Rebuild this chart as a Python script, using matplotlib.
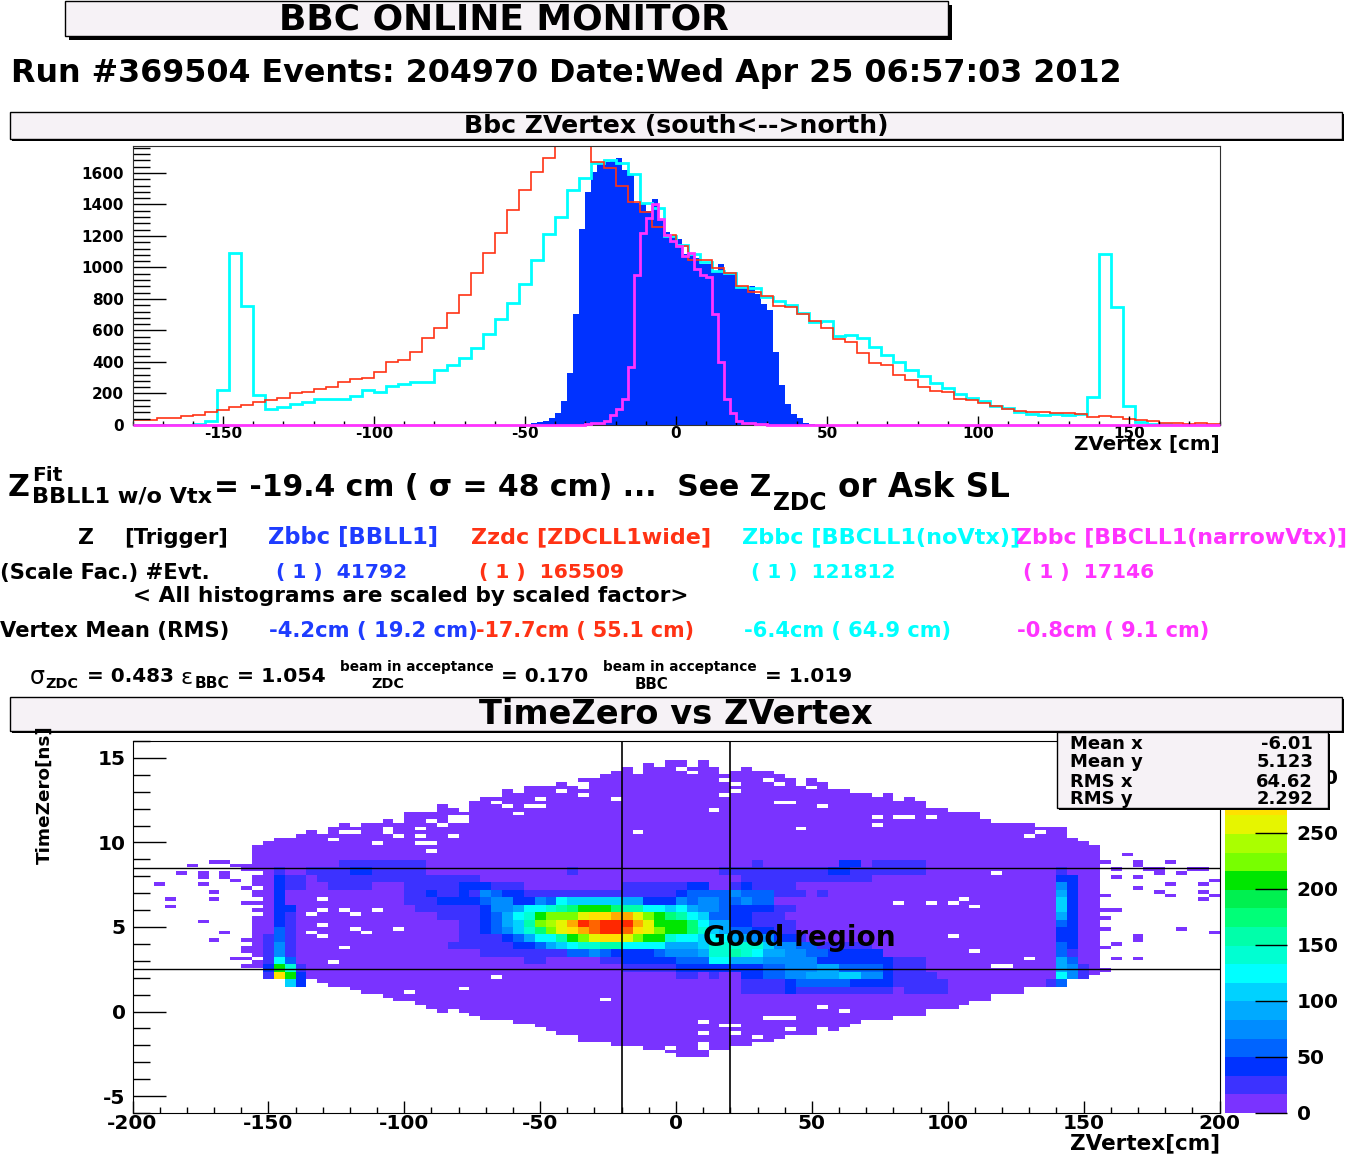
import numpy as np
import matplotlib
matplotlib.use('Agg')
import matplotlib.pyplot as plt
from matplotlib.colors import ListedColormap, BoundaryNorm
from matplotlib.patches import Rectangle
from matplotlib.ticker import MultipleLocator

plt.rcParams['axes.unicode_minus'] = False

W, H = 1363, 1161

# top histogram, 4 cm bins from -180 to 180
red_4cm = [32, 32, 47, 47, 59, 66, 80, 95, 116, 125, 144, 159, 174, 201, 210, 231, 243, 271, 294, 300,
           334, 400, 413, 463, 554, 618, 709, 825, 963, 1092, 1219, 1367, 1494, 1608, 1693, 1850, 1840,
           1769, 1672, 1630, 1517, 1414, 1354, 1255, 1204,
           1135, 1048, 1046, 998, 966, 881, 843, 817, 758, 747, 705, 662, 613, 545, 528, 456, 393, 384,
           320, 286, 242, 216, 208, 168, 159, 138, 123, 104, 91, 85, 83, 78, 78, 70, 53, 59, 49, 40, 32,
           25, 15, 13, 8, 13, 6]
cyan_4cm = [0, 0, 0, 0, 2, 8, 27, 221, 1093, 754, 191, 104, 113, 132, 147, 163, 163, 163, 183, 221,
            212, 248, 261, 276, 276, 346, 382, 425, 488, 580, 673, 773, 898, 1049, 1212, 1318, 1490,
            1567, 1660, 1681, 1662, 1592, 1412, 1376, 1200,
            1140, 1083, 1034, 977, 962, 877, 870, 813, 786, 760, 711, 654, 658, 567, 573, 552, 495, 446,
            403, 346, 312, 265, 234, 195, 170, 153, 123, 110, 85, 72, 66, 72, 66, 70, 176, 1083, 749,
            121, 21, 8, 4, 2, 1, 0, 0]
# 2 cm bins from -50 to 46
blue_2cm = [2, 10, 17, 27, 47, 74, 155, 333, 707, 1242, 1482, 1603, 1656, 1667, 1675, 1692, 1620, 1586,
            1412, 1401, 1359, 1437, 1306, 1225, 1200,
            1183, 1083, 1093, 1062, 1019, 1019, 970, 1025, 960, 960, 881, 877, 885, 834, 771, 728, 461,
            255, 134, 70, 42, 15, 4]
# 2 cm bins from -30 to 30
magenta_2cm = [8, 10, 15, 25, 64, 100, 163, 367, 951, 1217, 1312, 1406, 1306, 1204, 1168,
               1136, 1072, 1089, 992, 949, 941, 705, 397, 166, 79, 25, 15, 10, 6, 4]

# 2d histogram, 100x100 cells: columns 11..88 hold an outline
first_col = 11
top_edge = [9.8, 10.0, 10.2, 10.2, 10.45, 10.7, 10.45, 10.85, 11.05, 10.9,
            11.05, 11.05, 11.45, 11.05, 11.85, 11.85, 11.85, 12.25, 12.05, 11.85,
            12.45, 12.65, 12.65, 13.05, 12.85, 13.25, 13.25, 13.45, 13.65, 13.45,
            13.85, 13.85, 14.0, 14.2, 14.4, 14.0, 14.6, 14.4, 14.8, 14.8,
            14.4, 15.0, 14.4, 14.0, 14.2, 14.4, 14.2, 14.2, 14.0, 13.85,
            13.65, 13.85, 13.65, 13.45, 13.05, 12.85, 12.85, 12.65, 12.85, 12.45,
            12.65, 12.45, 12.05, 12.05, 11.85, 11.85, 11.85, 11.45, 11.25, 11.25,
            11.05, 11.05, 10.85, 10.85, 10.85, 10.2, 10.0, 9.8]
bot_edge = [2.5, 2.25, 2.1, 2.05, 1.85, 1.85, 1.65, 1.45, 1.45, 1.2,
            1.0, 1.0, 0.8, 0.6, 0.6, 0.4, 0.2, 0.0, 0.2, 0.0,
            -0.2, -0.4, -0.55, -0.4, -0.75, -0.75, -0.95, -1.15, -1.35, -1.35,
            -1.75, -1.75, -1.75, -1.95, -2.15, -2.15, -2.35, -2.35, -2.55, -2.75,
            -2.75, -2.75, -2.35, -2.35, -2.15, -1.95, -1.75, -1.75, -1.55, -1.35,
            -1.35, -1.35, -0.95, -1.15, -0.95, -0.75, -0.55, -0.55, -0.4, -0.2,
            -0.2, -0.2, 0.2, 0.2, 0.2, 0.4, 0.6, 0.6, 1.0, 1.0,
            1.0, 1.5, 1.5, 1.5, 1.7, 1.9, 1.9, 2.1]

# colour band per cell, two rows per line, rows 66 down to 32, columns 10..89 (. = lowest band)
band_lines = [
    '.........11111111..' '.......................' '.....1.......22.11111.................',
    '...1..11112211111..' '...........1...........' '..1111111111221111111............1....',
    '...211.111111111111' '111....................' '....111111111111.................22...',
    '...211..1111...1111' '1222111.........1111112' '2..121111........................42...',
    '...2...........1121' '12143221111111111111123' '3334333111.1.....................52...',
    '...2...........1112' '22234422437666665522243' '4433433..........................62...',
    '...22...........111' '11124457789accca9977675' '443222211........................62...',
    '...21.............1' '11123578cdddfgghhfdca97' '63322111.........................52...',
    '...21..............' '.1123569defhjijjjhfccca' '755221111........................32...',
    '...31..............' '.1123468adfghijjigfdcca' '865332211........................22...',
    '..131..............' '.1111235779cdfggfdcc877' '6775544221.......................22...',
    '..141..............' '11111122356788997777555' '6888886443311111.................32...',
    '..141..............' '...11111111334322223444' '58898755443322222................31...',
    '..173..............' '.......11.....112222233' '377555444442222222111............53...',
    '..2c81.............' '................1111122' '222222334445533332111............541..',
    '..1gc2.............' '.....................11' '.1..223344555664421111...........741..',
    '....62.............' '.......................' '....111123333322221111 1.........13....'.replace(' ', ''),
    '...................' '.......................' '....11112111111111.1111...............',
]
first_band_row = 66
first_band_col = 10

# empty cells inside the outline
hole_col = [46, 44, 41, 41, 39, 41, 37, 37, 36, 33, 34, 35, 29, 30, 29, 30, 27, 28, 23, 23, 19, 20, 18, 22, 26, 26,
            29, 24, 26, 27, 27, 17, 17, 16, 19, 20, 22, 17, 16, 17, 20, 21, 24, 19, 18, 33, 30, 25, 43, 49,
            60, 59, 63, 53, 61, 68, 68, 70, 71, 73, 82, 83, 79, 70, 73, 75, 76, 77, 75, 77, 82, 79, 80, 63, 65,
            52, 54, 55, 58, 59, 60, 60, 52, 55, 57, 52, 52, 50, 51, 54, 55, 55, 54, 58, 59, 61, 62, 64,
            11, 11, 11, 11, 11, 11]
hole_t = [10.54, 12.65, 12.75, 13.15, 12.95, 13.5, 12.55, 12.15, 12.15, 12.35, 12.05, 11.75, 11.55, 11.55, 11.2, 11.2,
          11.3, 11.0, 10.7, 10.9, 10.5, 10.5, 10.25, 10.05, 10.8, 10.35, 10.35, 10.3, 9.95, 9.95, 9.55,
          6.55, 5.95, 5.7, 5.95, 5.7, 5.95, 5.15, 4.75, 4.55, 4.95, 4.75, 4.95, 3.75, 2.8, 2.0, 1.35, 1.1, 0.7, -2.05,
          12.45, 12.45, 12.25, 12.0, 10.8, 11.5, 11.0, 11.4, 11.4, 11.4, 10.35, 10.55, 8.25, 6.35, 6.35, 6.35, 6.55,
          6.15, 4.35, 3.55, 3.05, 2.75, 2.6, 0.3, 0.1, -0.65, -0.85, -0.85, -0.5, -0.5, -0.5, -1.05, -1.25, -1.25,
          -1.45, -2.25, -1.95, 14.35, 14.05, 13.6, 13.4, 13.0, 12.75, 13.75, 13.4, 13.5, 13.15, 13.35,
          8.2, 7.3, 6.7, 6.2, 5.7, 3.05]

# lone filled cells outside the outline
stray_col = [5, 7, 8, 9, 10, 4, 6, 6, 8, 8, 9, 2, 6, 7, 3, 7, 3, 6, 8, 7, 10, 9, 10, 10, 10, 10, 10, 10, 10,
             91, 92, 89, 95, 92, 93, 94, 90, 94, 96, 97, 98, 92, 90, 99, 98, 95, 92, 94, 95, 98, 99, 89, 98,
             89, 90, 89, 89, 96, 99, 92, 92, 90, 89, 90, 92, 89]
stray_t = [8.7, 8.9, 8.9, 8.7, 8.7, 8.13, 8.13, 7.9, 8.2, 8.0, 7.85, 7.5, 7.5, 7.1, 6.7, 6.7, 6.15, 5.25, 4.7, 4.3,
           4.3, 3.1, 3.1, 2.7, 3.5, 3.7, 6.4, 8.4, 7.3,
           9.3, 8.9, 8.9, 8.9, 8.65, 8.5, 8.35, 8.3, 8.15, 8.1, 8.5, 8.35, 8.0, 8.0, 7.75, 7.55, 7.55, 7.35,
           7.15, 6.95, 7.15, 6.95, 6.95, 6.55, 5.95, 5.95, 5.5, 4.9, 4.9, 4.75, 4.35, 4.15, 3.95, 3.75, 3.15,
           3.15, 2.55]

band_colors = ['#7a33ff', '#3c32ff', '#0032ff', '#0064ff', '#008cff', '#00aaff', '#00d2ff', '#00ffff',
               '#00ffd2', '#00ffaa', '#00ff78', '#00f050', '#00e600', '#78ff00', '#aaff00', '#e6f500',
               '#ffe100', '#ffaa00', '#ff6400', '#ff2800']
band_width = 16.6

stats_names = ['Mean x', 'Mean y', 'RMS x', 'RMS y']
stats_values = ['-6.01', '5.123', '64.62', '2.292']


def px_box(x0, y0, x1, y1):
    return [x0 / W, 1 - y1 / H, (x1 - x0) / W, (y1 - y0) / H]


def ticks_px(ax, axis, major, minor, maj_len, min_len):
    a = ax.xaxis if axis == 'x' else ax.yaxis
    a.set_major_locator(MultipleLocator(major))
    a.set_minor_locator(MultipleLocator(minor))
    ax.tick_params(axis=axis, which='major', direction='in', length=maj_len * 0.72, width=1)
    ax.tick_params(axis=axis, which='minor', direction='in', length=min_len * 0.72, width=1)


fig = plt.figure(figsize=(W / 100, H / 100), dpi=100)
rend = fig.canvas.get_renderer()

# overlay in pixel coordinates for boxes and labels
over = fig.add_axes([0, 0, 1, 1], zorder=10)
over.set_xlim(0, W)
over.set_ylim(H, 0)
over.axis('off')


def put(s, x0, x1, y, color='black', weight='bold', family='DejaVu Sans'):
    t = over.text(x0, y + 1.5, s, color=color, fontsize=10, fontweight=weight, family=family, ha='left', va='center')
    t.set_fontsize(10 * (x1 - x0) / t.get_window_extent(rend).width)
    return t


def title_box(x0, y0, x1, y1, shadow):
    over.add_patch(Rectangle((x0 + shadow, y0 + shadow), x1 - x0, y1 - y0, fc='black', ec='none'))
    over.add_patch(Rectangle((x0, y0), x1 - x0, y1 - y0, fc='#f6f2f6', ec='black', lw=1))


# top histogram
ax1 = fig.add_axes(px_box(132.5, 146, 1219.5, 425))
edges4 = np.arange(-180, 181, 4)
edges2 = np.arange(-180, 181, 2)
blue = np.zeros(180)
blue[65:65 + len(blue_2cm)] = blue_2cm
magenta = np.zeros(180)
magenta[75:75 + len(magenta_2cm)] = magenta_2cm
ax1.stairs(blue, edges2, fill=True, color='#0032ff', lw=0)
ax1.stairs(cyan_4cm, edges4, color='#00ffff', lw=2.0)
ax1.stairs(red_4cm, edges4, color='#ff3214', lw=1.2)
ax1.stairs(magenta, edges2, color='#ff33ff', lw=2.0, clip_on=False, zorder=5)
ax1.set_xlim(-180, 180)
ax1.set_ylim(0, 1771)
ticks_px(ax1, 'x', 50, 10, 9, 4)
ticks_px(ax1, 'y', 200, 40, 33, 17)
ax1.tick_params(axis='x', which='major', labelsize=11, pad=0.5)
ax1.tick_params(axis='y', which='major', labelsize=11, pad=6)
for lab in ax1.get_xticklabels() + ax1.get_yticklabels():
    lab.set_fontweight('bold')
for s in ax1.spines.values():
    s.set_color('#303030')

# 2d histogram
zedges = np.linspace(-200, 200, 101)
tedges = np.linspace(-6, 16, 101)
tstep = 22 / 100
cells = np.full((100, 100), np.nan)
for i in range(len(top_edge)):
    r0 = int(round((bot_edge[i] + 6) / tstep))
    r1 = int(round((top_edge[i] + 6) / tstep))
    cells[r0:r1, first_col + i] = band_width / 2
for c, t in zip(stray_col, stray_t):
    cells[int((t + 6) / tstep), c] = band_width / 2
for k, line in enumerate(band_lines):
    r = first_band_row - 2 * k
    for j, ch in enumerate(line):
        if ch != '.':
            cells[r:r + 2, first_band_col + j] = (int(ch, 20) + 0.5) * band_width
for c, t in zip(hole_col, hole_t):
    cells[int((t + 6) / tstep), c] = np.nan

cmap = ListedColormap(band_colors)
levels = np.arange(21) * band_width
norm = BoundaryNorm(levels, 20)
ax2 = fig.add_axes(px_box(132.5, 741, 1219.5, 1113))
ax2.pcolormesh(zedges, tedges, np.ma.masked_invalid(cells), cmap=cmap, norm=norm)
ax2.axvline(-20, color='black', lw=1.2)
ax2.axvline(20, color='black', lw=1.2)
ax2.axhline(2.5, color='black', lw=1.0)
ax2.axhline(8.5, color='black', lw=1.0)
ax2.set_xlim(-200, 200)
ax2.set_ylim(-6, 16)
ticks_px(ax2, 'x', 50, 10, 12, 6)
ticks_px(ax2, 'y', 5, 1, 33, 17)
ax2.tick_params(axis='x', which='major', labelsize=14.5, pad=1)
ax2.tick_params(axis='y', which='major', labelsize=14.5, pad=5)
for lab in ax2.get_xticklabels() + ax2.get_yticklabels():
    lab.set_fontweight('bold')

# colour scale
cax = fig.add_axes(px_box(1225, 741, 1287, 1113))
cax.pcolormesh([0, 1], levels, np.arange(20).reshape(-1, 1) * band_width + 1, cmap=cmap, norm=norm)
cax.set_xticks([])
cax.yaxis.tick_right()
cax.set_yticks(np.arange(0, 301, 50))
cax.tick_params(axis='y', direction='in', length=23, width=1, labelsize=14.5, pad=7)
for lab in cax.get_yticklabels():
    lab.set_fontweight('bold')
for s in cax.spines.values():
    s.set_visible(False)

# boxes and text
title_box(65, 1, 948, 36, 4)
title_box(10, 112, 1342, 139, 2)
title_box(10, 697, 1342, 731, 2)
put('BBC ONLINE MONITOR', 279, 732, 18)
put('Run #369504 Events: 204970 Date:Wed Apr 25 06:57:03 2012', 11, 1126, 72)
put('Bbc ZVertex (south<-->north)', 464, 889, 124)
put('TimeZero vs ZVertex', 479, 874, 713)

put('Z', 8, 30, 486)
put('Fit', 32, 62, 474)
put('BBLL1 w/o Vtx', 32, 213, 495)
put('= -19.4 cm ( \u03c3 = 48 cm) ...  See Z', 214, 773, 486)
put('ZDC', 773, 827, 501)
put('or Ask SL', 838, 1010, 486)

put('Z', 78, 94, 536)
put('[Trigger]', 124, 228, 536)
put('Zbbc [BBLL1]', 268, 438, 536, color='#1e3cff')
put('Zzdc [ZDCLL1wide]', 471, 712, 536, color='#ff3214')
put('Zbbc [BBCLL1(noVtx)]', 742, 1022, 536, color='#00ffff')
put('Zbbc [BBCLL1(narrowVtx)]', 1016, 1348, 536, color='#ff33ff')

put('(Scale Fac.) #Evt.', 0, 211, 571)
put('( 1 )  41792', 276, 408, 571, color='#1e3cff')
put('( 1 )  165509', 479, 625, 571, color='#ff3214')
put('( 1 )  121812', 751, 897, 571, color='#00ffff')
put('( 1 )  17146', 1023, 1155, 571, color='#ff33ff')
put('< All histograms are scaled by scaled factor>', 133, 688, 594)

put('Vertex Mean (RMS)', 0, 230, 629)
put('-4.2cm ( 19.2 cm)', 269, 478, 629, color='#1e3cff')
put('-17.7cm ( 55.1 cm)', 476, 695, 629, color='#ff3214')
put('-6.4cm ( 64.9 cm)', 744, 952, 629, color='#00ffff')
put('-0.8cm ( 9.1 cm)', 1017, 1210, 629, color='#ff33ff')

put('\u03c3', 30, 45, 676, weight='normal')
put('ZDC', 45, 78, 682)
put('= 0.483', 87, 174, 675)
put('\u03b5', 181, 193, 677, weight='normal')
put('BBC', 195, 230, 682)
put('= 1.054', 237, 326, 675)
put('beam in acceptance', 340, 494, 666)
put('ZDC', 371, 404, 683)
put('= 0.170', 501, 588, 675)
put('beam in acceptance', 603, 757, 666)
put('BBC', 635, 669, 683)
put('= 1.019', 765, 852, 675)

put('ZVertex [cm]', 1074, 1220, 443)
put('ZVertex[cm]', 1070, 1220, 1142)
put('Good region', 703, 895, 936)
over.text(45, 795, 'TimeZero[ns]', rotation=90, ha='center', va='center', fontsize=13.2,
          fontweight='bold', family='DejaVu Sans')

# stats box
over.add_patch(Rectangle((1059, 734), 271, 76, fc='black', ec='none'))
over.add_patch(Rectangle((1057, 732), 271, 76, fc='#f6f2f6', ec='black', lw=1))
for y, name, val in zip([744, 762, 782, 799], stats_names, stats_values):
    over.text(1070, y, name, fontsize=13, fontweight='bold', ha='left', va='center')
    over.text(1313, y, val, fontsize=13, fontweight='bold', ha='right', va='center')

fig.savefig('out.png', dpi=100)
